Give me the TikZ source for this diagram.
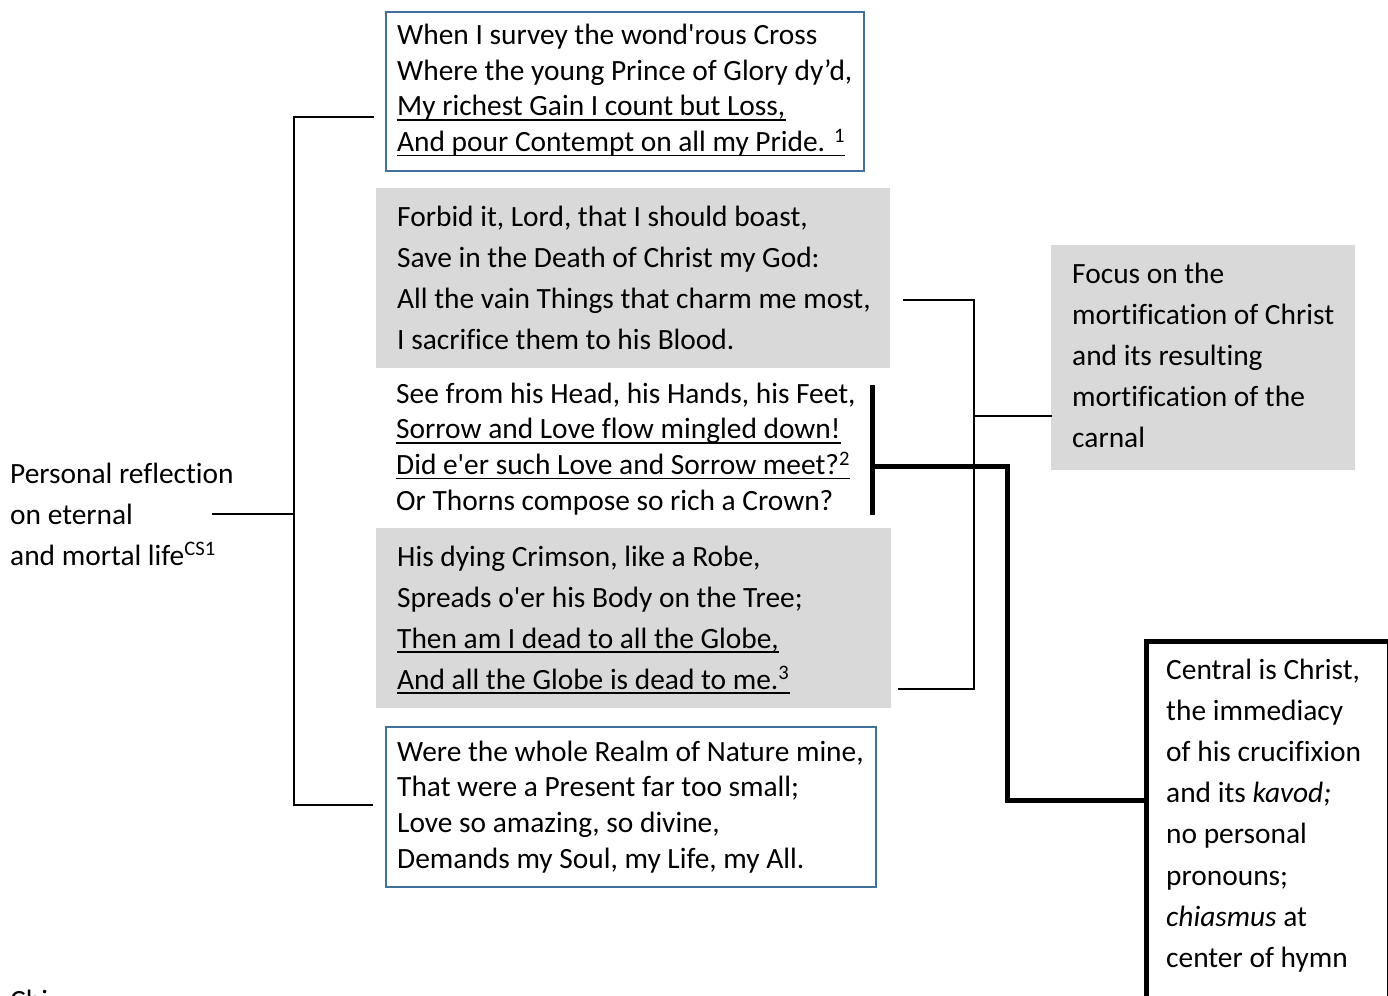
\documentclass[tikz,border=0pt]{standalone}
\usepackage{fontspec}
\setmainfont{Carlito}[Ligatures={TeX,NoCommon}]
\definecolor{boxblue}{RGB}{65,113,156}
\definecolor{boxgrey}{RGB}{217,217,217}
\tikzset{
  txt/.style={anchor=base west, inner sep=0pt, font=\fontsize{29.4}{35}\selectfont},
  bluebox/.style={draw=boxblue, line width=2pt, fill=white, anchor=north west, inner sep=0pt},
  greybox/.style={fill=boxgrey, anchor=north west, inner sep=0pt},
  blackbox/.style={draw=black, line width=5pt, fill=white, anchor=north west, inner sep=0pt},
  thinline/.style={line width=2pt, line cap=rect},
  thickline/.style={line width=5pt, line cap=rect},
  ulline/.style={line width=1.8pt}
}
\newcommand\underl[1]{\draw[ulline] ([yshift=-4pt]#1.base west) -- ([yshift=-4pt]#1.base east);}
\begin{document}
\begin{tikzpicture}[x=1pt,y=-1pt]
\useasboundingbox (0,0) rectangle (1388,995);
\clip (0,0) rectangle (1388,995);
% boxes
\node[bluebox, minimum width=478pt, minimum height=159pt] (b1) at (385,11) {};
\node[greybox, minimum width=514pt, minimum height=180pt] (b2) at (376,188) {};
\node[greybox, minimum width=515pt, minimum height=180pt] (b4) at (376,528) {};
\node[bluebox, minimum width=490pt, minimum height=160pt] (b5) at (385,726) {};
\node[greybox, minimum width=304pt, minimum height=225pt] (focus) at (1051,245) {};
\node[blackbox, minimum width=243pt, minimum height=400pt] (central) at (1144,639) {};
% stanza 1
\foreach \t [count=\i from 0] in {{When I survey the wond\textquotesingle rous Cross},{Where the young Prince of Glory dy’d,},{My richest Gain I count but Loss,},{And pour Contempt on all my Pride. \textsuperscript{1}}}
  \node[txt] (sa\i) at (397,45+35.5*\i) {\t};
\underl{sa2}\underl{sa3}
% stanza 2
\foreach \t [count=\i from 0] in {{Forbid it, Lord, that I should boast,},{Save in the Death of Christ my God:},{All the vain Things that charm me most,},{I sacrifice them to his Blood.}}
  \node[txt] (sb\i) at (397,226+41.2*\i) {\t};
% stanza 3
\foreach \t [count=\i from 0] in {{See from his Head, his Hands, his Feet,},{Sorrow and Love flow mingled down!},{Did e\textquotesingle er such Love and Sorrow meet?\textsuperscript{2}},{Or Thorns compose so rich a Crown?}}
  \node[txt] (sc\i) at (396,403+35.7*\i) {\t};
\underl{sc1}\underl{sc2}
% stanza 4
\foreach \t [count=\i from 0] in {{His dying Crimson, like a Robe,},{Spreads o\textquotesingle er his Body on the Tree;},{Then am I dead to all the Globe,},{And all the Globe is dead to me.\textsuperscript{3}}}
  \node[txt] (sd\i) at (397,566+41*\i) {\t};
\underl{sd2}\underl{sd3}
% stanza 5
\foreach \t [count=\i from 0] in {{Were the whole Realm of Nature mine,},{That were a Present far too small;},{Love so amazing, so divine,},{Demands my Soul, my Life, my All.}}
  \node[txt] (se\i) at (397,761+35.7*\i) {\t};
% right grey
\foreach \t [count=\i from 0] in {{Focus on the},{mortification of Christ},{and its resulting},{mortification of the},{carnal}}
  \node[txt] (f\i) at (1072,283+41.2*\i) {\t};
% black box
\foreach \t [count=\i from 0] in {{Central is Christ,},{the immediacy},{of his crucifixion},{and its \textit{kavod;}},{no personal},{pronouns;},{\textit{chiasmus} at},{center of hymn}}
  \node[txt] (c\i) at (1166,679+41.2*\i) {\t};
% left
\foreach \t [count=\i from 0] in {{Personal reflection},{on eternal},{and mortal life\textsuperscript{CS1}}}
  \node[txt] (p\i) at (10,483+41*\i) {\t};
\node[txt] (chi) at (10,1010) {Chi};
% connectors: left bracket
\coordinate (lT) at (373,117);
\coordinate (lTc) at (294,117);
\coordinate (lB) at (372,805);
\coordinate (lBc) at (294,805);
\coordinate (lM) at (213,514);
\coordinate (lMc) at (294,514);
\draw[thinline] (lT) -- (lTc) -- (lBc) -- (lB);
\draw[thinline] (lM) -- (lMc);
% right thin bracket
\coordinate (rT) at (904,300);
\coordinate (rTc) at (974,300);
\coordinate (rB) at (899,689);
\coordinate (rBc) at (974,689);
\coordinate (rM) at (974,416);
\draw[thinline] (rT) -- (rTc) -- (rBc) -- (rB);
\draw[thinline] (rM) -- (focus.west |- rM);
% thick connector
\coordinate (kT) at (872,387);
\coordinate (kB) at (872,512);
\coordinate (kM) at (872,466);
\coordinate (kC1) at (1007,466);
\coordinate (kC2) at (1007,800);
\draw[thickline] (kT) -- (kB);
\draw[thickline, line cap=butt] (kM) -- (kC1) -- (kC2) -- (central.west |- kC2);
\end{tikzpicture}
\end{document}
